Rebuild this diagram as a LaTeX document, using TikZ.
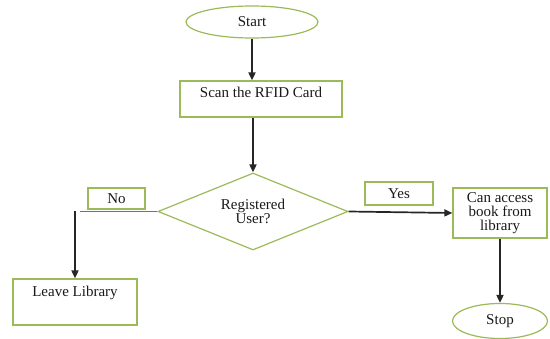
\documentclass[tikz,border=0pt]{standalone}
\usepackage{fontspec}
\setmainfont{Liberation Serif}
\usetikzlibrary{shapes.geometric,arrows.meta,calc}
\definecolor{boxgreen}{RGB}{155,187,89}
\begin{document}
\begin{tikzpicture}[x=1pt,y=-1pt,
 every node/.style={font=\fontsize{15}{14}\selectfont, text=black!90},
 box/.style={draw=boxgreen, line width=1.2pt, inner sep=0pt},
 term/.style={box, ellipse},
 arr/.style={line width=1.7pt, draw=black!85, -{Triangle[length=8pt,width=7pt]}},
]
\useasboundingbox (0,0) rectangle (550,339);
\node[term, minimum width=132pt, minimum height=32pt] (start) at (252,22) {Start};
\node[box, minimum width=162pt, minimum height=36pt, text height=17pt, text depth=19pt] (scan) at (261,99) {Scan the RFID Card};
\node[box, diamond, aspect=2.47, minimum width=190pt, minimum height=77pt, align=center] (dia) at (253,211.5) {Registered\\User?};
\node[box, minimum width=57pt, minimum height=21pt] (no) at (116.5,198.5) {No};
\node[box, minimum width=68pt, minimum height=23pt] (yes) at (399,193.5) {Yes};
\node[box, minimum width=124pt, minimum height=46pt, text height=18pt, text depth=28pt] (leave) at (75,302) {Leave Library};
\node[box, minimum width=94pt, minimum height=50pt, align=center] (can) at (500,213) {Can access\\book from\\library};
\node[term, minimum width=95pt, minimum height=35pt] (stop) at (500,321) {Stop};
\draw[arr] (start.south) -- (start.south |- scan.north);
\draw[arr] (scan.south -| dia.north) -- (dia.north);
\draw[line width=1.3pt, draw=black!55] (dia.west) -- ($(leave.north |- dia.west)+(5,0)$);
\draw[arr] (leave.north |- dia.west) -- (leave.north);
\draw[arr] (dia.east) -- (can.west);
\draw[arr] (can.south) -- (stop.north);
\end{tikzpicture}
\end{document}
